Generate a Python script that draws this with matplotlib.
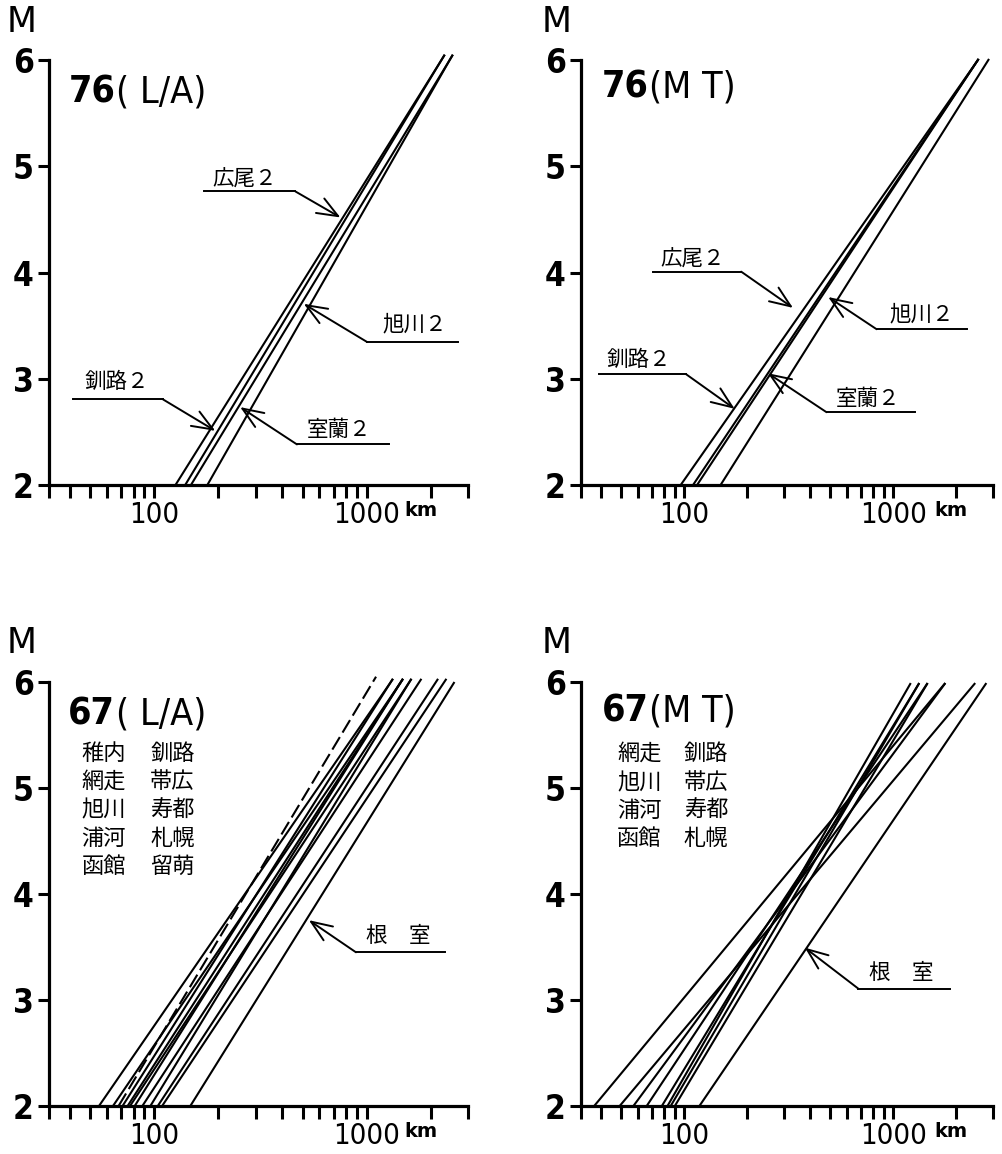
import numpy as np
import matplotlib
matplotlib.use("Agg")
import matplotlib.pyplot as plt
from matplotlib import font_manager as fm
from matplotlib.ticker import FixedLocator, NullLocator

# distance (km) where each station line has M = 2 and M = 6
stations_76 = ["広尾２", "釧路２", "室蘭２", "旭川２"]
la76_d2 = [126, 140, 149, 178]
la76_d6 = [2250, 2250, 2460, 2460]
mt76_d2 = [96, 110, 115, 149]
mt76_d6 = [2540, 2540, 2540, 2850]

# 1967 lists (lines are not labelled one by one, only 根室)
names_67_la = [["稚内", "釧路"], ["網走", "帯広"], ["旭川", "寿都"],
               ["浦河", "札幌"], ["函館", "留萌"]]
la67_d2 = [55, 64, 71, 75, 77, 81, 88, 96, 104, 109]
la67_d6 = [1300, 1450, 1300, 1450, 1590, 1450, 1770, 1590, 2120, 2320]
la67_dash = (68, 1070)
la67_nemuro = (148, 2590)

names_67_mt = [["網走", "釧路"], ["旭川", "帯広"], ["浦河", "寿都"],
               ["函館", "札幌"]]
mt67_d2 = [37, 49, 57, 66, 78, 83, 86, 90]
mt67_d6 = [1790, 2490, 1790, 1470, 1340, 1220, 1340, 1470]
mt67_nemuro = (118, 2810)

x_ticks = [32, 40, 50, 60, 70, 80, 90, 100, 200, 300, 400, 500, 600, 700,
           800, 900, 1000, 2000, 3000]
y_ticks = [2, 3, 4, 5, 6]


def narrow_font(weight="normal", size=20):
    # look for a condensed sans; keep DejaVu Sans if none is there
    for fam, stretch in (("DejaVu Sans", "condensed"),
                         ("Liberation Sans Narrow", "normal"),
                         ("Roboto Condensed", "normal")):
        fp = fm.FontProperties(family=fam, stretch=stretch, weight=weight,
                               size=size)
        try:
            path = fm.findfont(fp, fallback_to_default=False)
        except Exception:
            continue
        low = path.lower()
        if "condensed" in low or "narrow" in low:
            return fp
    return fm.FontProperties(family="DejaVu Sans", weight=weight, size=size)


CJK = ["Noto Sans CJK JP", "DejaVu Sans"]

W, H = 1002, 1154
fig = plt.figure(figsize=(W / 100, H / 100), dpi=100)
renderer = fig.canvas.get_renderer()


def px_rect(l, r, t, b):
    return [l / W, 1 - b / H, (r - l) / W, (b - t) / H]


def line_x(d2, d6, m):
    a, b = np.log10(d2), np.log10(d6)
    return 10 ** (a + (m - 2) * (b - a) / 4)


def draw_line(ax, d2, d6, top, **kw):
    ms = np.array([2.0, top])
    ax.plot(line_x(d2, d6, ms), ms, color="k", lw=1.5, clip_on=False,
            solid_capstyle="butt", **kw)


def setup(ax):
    ax.set_xscale("log")
    ax.set_xlim(32, 3000)
    ax.set_ylim(2, 6)
    for s in ("top", "right"):
        ax.spines[s].set_visible(False)
    for s in ("left", "bottom"):
        ax.spines[s].set_linewidth(2.3)
    ax.xaxis.set_major_locator(FixedLocator(x_ticks))
    ax.xaxis.set_minor_locator(NullLocator())
    ax.set_xticklabels(["100" if t == 100 else "1000" if t == 1000 else ""
                        for t in x_ticks])
    for lbl in ax.get_xticklabels():
        lbl.set_fontproperties(narrow_font("normal", 21))
    ax.set_yticks(y_ticks)
    ax.set_yticklabels([str(v) for v in y_ticks])
    for lbl in ax.get_yticklabels():
        lbl.set_fontproperties(narrow_font("bold", 24))
    ax.tick_params(axis="y", length=8, width=2.2, pad=3)
    ax.tick_params(axis="x", length=9.5, width=2.2, pad=2)
    ax.patch.set_alpha(0)


def leader(ax, label, text_xy, end, knee, tip, fs=15.5):
    ax.plot([end[0], knee[0]], [end[1], knee[1]], color="k", lw=1.4,
            clip_on=False)
    ax.annotate("", xy=tip, xytext=knee,
                arrowprops=dict(arrowstyle="->,head_length=0.75,head_width=0.3",
                                mutation_scale=20, lw=1.4, color="k",
                                shrinkA=0, shrinkB=0))
    ax.text(text_xy[0], text_xy[1], label, ha="center", va="center",
            family=CJK, fontsize=fs)


def title(ax, year, rest, x, y):
    # year in bold, the bracket part lighter, set right after it
    t = ax.text(x, y, year, transform=ax.transAxes, ha="left",
                va="baseline", fontproperties=narrow_font("bold", 27))
    bb = t.get_window_extent(renderer)
    x2 = ax.transAxes.inverted().transform((bb.x1 + 1, bb.y0))[0]
    ax.text(x2, y, rest, transform=ax.transAxes, ha="left", va="baseline",
            fontproperties=narrow_font("normal", 27))


panels = {
    "tl": px_rect(49, 468, 60, 485),
    "tr": px_rect(581, 993, 60, 485),
    "bl": px_rect(49, 468, 682, 1106),
    "br": px_rect(581, 993, 682, 1106),
}
axes = {k: fig.add_axes(v) for k, v in panels.items()}
for ax in axes.values():
    setup(ax)

# ---- 76 (L/A)
ax = axes["tl"]
for d2, d6 in zip(la76_d2, la76_d6):
    draw_line(ax, d2, d6, 6.05)
title(ax, "76", "( L/A)", 0.046, 0.9)
leader(ax, "広尾２", (268, 4.878), (172, 4.763), (462, 4.763), (753, 4.518))
leader(ax, "旭川２", (1675, 3.508), (2680, 3.345), (1007, 3.345), (506, 3.705))
leader(ax, "釧路２", (66.4, 2.972), (41.4, 2.806), (110, 2.806), (194, 2.51))
leader(ax, "室蘭２", (740, 2.52), (1276, 2.382), (470, 2.382), (254, 2.733))

# ---- 76 (MT)
ax = axes["tr"]
for d2, d6 in zip(mt76_d2, mt76_d6):
    draw_line(ax, d2, d6, 6.01)
title(ax, "76", "(M T)", 0.05, 0.912)
leader(ax, "広尾２", (110, 4.12), (70.5, 4.008), (187, 4.008), (331, 3.667))
leader(ax, "旭川２", (1368, 3.61), (2249, 3.466), (832, 3.466), (488, 3.769))
leader(ax, "釧路２", (60.8, 3.179), (39, 3.042), (102, 3.042), (174, 2.717))
leader(ax, "室蘭２", (759, 2.813), (1271, 2.685), (479, 2.685), (251, 3.052))

# ---- 67 (L/A)
ax = axes["bl"]
for d2, d6 in zip(la67_d2, la67_d6):
    draw_line(ax, d2, d6, 6.03)
draw_line(ax, *la67_nemuro, 6.0)
draw_line(ax, *la67_dash, 6.05, linestyle=(0, (7, 2.5)))
title(ax, "67", "( L/A)", 0.046, 0.9)
for row, m in zip(names_67_la, [5.33, 5.06, 4.79, 4.52, 4.26]):
    ax.text(58, m, row[0], ha="center", va="center", family=CJK, fontsize=16)
    ax.text(122, m, row[1], ha="center", va="center", family=CJK, fontsize=16)
leader(ax, "根　室", (1413, 3.603), (2328, 3.45), (891, 3.45), (535, 3.753))

# ---- 67 (MT)
ax = axes["br"]
for d2, d6 in zip(mt67_d2, mt67_d6):
    draw_line(ax, d2, d6, 5.99)
draw_line(ax, *mt67_nemuro, 5.99)
title(ax, "67", "(M T)", 0.05, 0.908)
for row, m in zip(names_67_mt, [5.325, 5.05, 4.785, 4.52]):
    ax.text(60.8, m, row[0], ha="center", va="center", family=CJK, fontsize=16)
    ax.text(127, m, row[1], ha="center", va="center", family=CJK, fontsize=16)
leader(ax, "根　室", (1096, 3.253), (1871, 3.108), (679, 3.108), (377, 3.494))

# axis letters
for k, xfrac in (("tl", 0.888), ("tr", 0.898), ("bl", 0.888), ("br", 0.898)):
    axes[k].text(xfrac, -0.038, "km", transform=axes[k].transAxes, ha="center",
                 va="top", family="DejaVu Sans", fontsize=14, fontweight="bold")
for x, y in ((21.5, 22.5), (556.5, 22.5), (21.5, 643), (556.5, 643)):
    fig.text(x / W, 1 - y / H, "M", ha="center", va="center",
             family="DejaVu Sans", fontsize=25)

fig.savefig("out.png", dpi=100, facecolor="white")
